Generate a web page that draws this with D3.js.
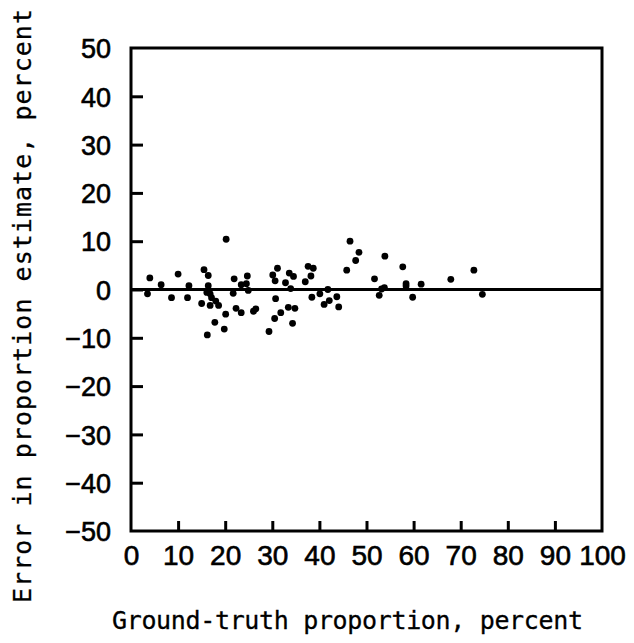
<!DOCTYPE html>
<html>
<head>
<meta charset="utf-8">
<script src="https://cdn.jsdelivr.net/npm/d3@7"></script>
<style>
  html, body { margin: 0; padding: 0; background: #fff; }
  svg { display: block; }
</style>
</head>
<body>
<svg id="chart" width="634" height="643"></svg>
<script>
// Ground-truth proportion (percent) for each sample segment
const groundTruth = [
  3.5, 4.0, 6.4, 8.6, 10.0, 12.0, 12.3, 15.0, 15.5, 16.2,
  16.1, 16.4, 16.4, 16.8, 16.8, 17.1, 17.8, 18.0, 18.6, 19.8,
  20.1, 20.2, 21.7, 21.9, 22.3, 23.4, 23.4, 24.5, 24.7, 24.9,
  26.0, 26.5, 29.3, 30.1, 30.6, 30.5, 30.7, 31.1, 31.8, 32.8,
  33.4, 33.6, 33.9, 34.3, 34.5, 34.8, 37.0, 37.6, 38.2, 38.4,
  38.7, 40.1, 41.0, 41.8, 42.1, 43.7, 44.1, 45.8, 46.5, 47.7,
  48.4, 51.7, 52.7, 53.2, 53.8, 53.9, 57.7, 58.4, 58.4, 59.8,
  61.6, 67.9, 72.8, 74.6
];

// Error in the proportion estimate (percent) for the same segments
const estimateError = [
  -0.9, 2.4, 1.0, -1.7, 3.2, -1.7, 0.8, -2.9, 4.1, -9.4,
  -0.6, 2.9, 0.8, -0.9, -3.3, -1.7, -6.8, -2.4, -3.3, -8.2,
  -5.1, 10.4, -0.8, 2.2, -3.9, -4.8, 1.0, 1.2, 2.8, -0.2,
  -4.5, -4.0, -8.7, 3.0, 1.8, -6.0, -1.9, 4.4, -4.8, 1.4,
  -3.7, 3.4, 0.2, -7.0, 2.7, -3.9, 1.6, 4.8, 2.8, -1.6,
  4.4, -0.9, -3.1, 0.0, -2.3, -1.5, -3.6, 4.0, 10.0, 6.0,
  7.7, 2.2, -1.2, 0.1, 0.4, 6.9, 4.7, 1.2, 0.7, -1.6,
  1.1, 2.1, 4.0, -1.0
];

const xTicks = [0, 10, 20, 30, 40, 50, 60, 70, 80, 90, 100];
const yTicks = [50, 40, 30, 20, 10, 0, -10, -20, -30, -40, -50];

const xTitle = "Ground-truth proportion, percent";
const yTitle = "Error in proportion estimate, percent";

const svg = d3.select("#chart");

const plotLeft = 131, plotRight = 602, plotTop = 48, plotBottom = 531;

const x = d3.scaleLinear().domain([0, 100]).range([plotLeft, plotRight]);
const y = d3.scaleLinear().domain([-50, 50]).range([plotBottom, plotTop]);

const tickFont = "'Liberation Sans Narrow', 'Liberation Sans', Arial, sans-serif";
const monoFont = "'DejaVu Sans Mono', 'Liberation Mono', monospace";

// Bottom axis: inward ticks, labels below
const xAxis = d3.axisBottom(x)
  .tickValues(xTicks)
  .tickSize(-10)
  .tickPadding(14)
  .tickFormat(d3.format("d"));

const gx = svg.append("g")
  .attr("transform", `translate(0,${plotBottom})`)
  .call(xAxis);
gx.select(".domain").remove();
gx.selectAll(".tick line")
  .attr("stroke", "#000")
  .attr("stroke-width", 3)
  .filter(d => d === 0 || d === 100).remove();
gx.selectAll(".tick text")
  .attr("fill", "#000")
  .attr("stroke", "#000")
  .attr("stroke-width", 0.6)
  .attr("font-family", tickFont)
  .attr("font-size", 28);

// Left axis: inward ticks, labels to the left
const yAxis = d3.axisLeft(y)
  .tickValues(yTicks)
  .tickSize(-12)
  .tickPadding(20)
  .tickFormat(d3.format("d"));

const gy = svg.append("g")
  .attr("transform", `translate(${plotLeft},0)`)
  .call(yAxis);
gy.select(".domain").remove();
gy.selectAll(".tick line")
  .attr("stroke", "#000")
  .attr("stroke-width", 3)
  .filter(d => d === 50 || d === -50).remove();
gy.selectAll(".tick text")
  .attr("fill", "#000")
  .attr("stroke", "#000")
  .attr("stroke-width", 0.6)
  .attr("font-family", tickFont)
  .attr("font-size", 27)
  .attr("dy", "0.36em");

// Plot frame
svg.append("rect")
  .attr("x", x(0))
  .attr("y", y(50))
  .attr("width", x(100) - x(0))
  .attr("height", y(-50) - y(50))
  .attr("fill", "none")
  .attr("stroke", "#000")
  .attr("stroke-width", 3);

// Zero-error reference line
svg.append("line")
  .attr("x1", x(0))
  .attr("x2", x(100))
  .attr("y1", y(0))
  .attr("y2", y(0))
  .attr("stroke", "#000")
  .attr("stroke-width", 3.2);

// Sample points
svg.append("g")
  .selectAll("circle")
  .data(d3.range(groundTruth.length))
  .join("circle")
  .attr("cx", i => x(groundTruth[i]))
  .attr("cy", i => y(estimateError[i]))
  .attr("r", 3.4)
  .attr("fill", "#000");

// Axis titles
svg.append("text")
  .attr("x", 112)
  .attr("y", 629)
  .attr("font-family", monoFont)
  .attr("font-size", 25)
  .attr("stroke", "#000")
  .attr("stroke-width", 0.3)
  .attr("textLength", 471)
  .attr("lengthAdjust", "spacing")
  .attr("fill", "#000")
  .text(xTitle);

svg.append("text")
  .attr("transform", "translate(31,603) rotate(-90)")
  .attr("font-family", monoFont)
  .attr("font-size", 25)
  .attr("stroke", "#000")
  .attr("stroke-width", 0.3)
  .attr("textLength", 594)
  .attr("lengthAdjust", "spacing")
  .attr("fill", "#000")
  .text(yTitle);
</script>
</body>
</html>
